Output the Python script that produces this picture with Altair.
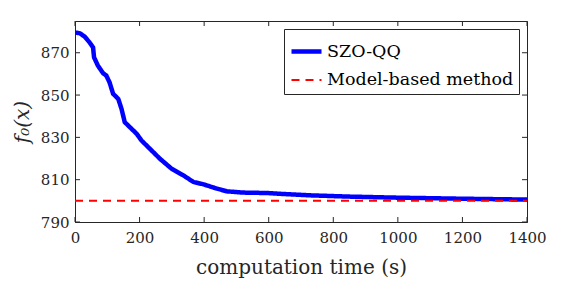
import altair as alt
import pandas as pd

# SZO-QQ trajectory (computation time in s, objective value)
t_szo = [0, 15, 30, 45, 56, 59, 71, 87, 97, 107, 118, 134, 144, 154, 170, 191,
         206, 232, 263, 299, 336, 367, 398, 439, 470, 521, 594, 650, 728, 850,
         1000, 1200, 1400]
f_szo = [879.6, 879.2, 877.6, 874.9, 872.5, 867.8, 863.9, 860.3, 859.2, 856.0,
         850.6, 848.2, 843.5, 837.2, 834.8, 831.7, 828.5, 824.6, 819.9, 815.2,
         812.0, 808.9, 807.8, 805.8, 804.5, 803.9, 803.7, 803.2, 802.6, 802.0,
         801.5, 801.0, 800.6]

# Model-based method (constant)
t_model = [0, 1400]
f_model = [800, 800]

series_names = ["SZO-QQ", "Model-based method"]
x_ticks = [0, 200, 400, 600, 800, 1000, 1200, 1400]
y_ticks = [790, 810, 830, 850, 870]

W, H = 452, 201
FONT = "DejaVu Serif"
INK = "#262626"

df = pd.concat([
    pd.DataFrame({"t": t_szo, "f": f_szo, "series": series_names[0]}),
    pd.DataFrame({"t": t_model, "f": f_model, "series": series_names[1]}),
])

legend = alt.Legend(
    title=None, orient="top-right", offset=8,
    symbolType="stroke", symbolSize=900,
    labelFont=FONT, labelFontSize=17.5, labelColor="black", labelLimit=400,
    labelOffset=3, rowPadding=3, padding=5,
    strokeColor=INK, fillColor="white", cornerRadius=0,
)

xscale = alt.Scale(domain=[0, 1400], nice=False, zero=False)
yscale = alt.Scale(domain=[790, 885], nice=False, zero=False)

lines = alt.Chart(df).mark_line(clip=True).encode(
    x=alt.X("t:Q", scale=xscale,
            axis=alt.Axis(values=x_ticks, format="d", title="computation time (s)",
                          labelPadding=8, titlePadding=12, ticks=False,
                          labelFlush=False, grid=False)),
    y=alt.Y("f:Q", scale=yscale,
            axis=alt.Axis(values=y_ticks, format="d", title="f₀(x)",
                          titleFontStyle="italic", labelFlush=False,
                          labelPadding=6, titlePadding=8, ticks=False,
                          grid=False)),
    color=alt.Color("series:N", scale=alt.Scale(domain=series_names,
                                                range=["#0000ff", "#ff0000"]),
                    legend=legend),
    strokeDash=alt.StrokeDash("series:N", scale=alt.Scale(domain=series_names,
                                                          range=[[1, 0], [8, 6]]),
                              legend=legend),
    strokeWidth=alt.StrokeWidth("series:N",
                                scale=alt.Scale(domain=series_names, range=[4.5, 2]),
                                legend=legend),
)

xt = pd.DataFrame({"t": x_ticks})
yt = pd.DataFrame({"f": y_ticks})

tick_style = dict(color=INK, strokeWidth=1)
xb = alt.Chart(xt).mark_rule(**tick_style).encode(
    x="t:Q", y=alt.value(H), y2=alt.value(H - 5))
xtop = alt.Chart(xt).mark_rule(**tick_style).encode(
    x="t:Q", y=alt.value(0), y2=alt.value(5))
yl = alt.Chart(yt).mark_rule(**tick_style).encode(
    y="f:Q", x=alt.value(0), x2=alt.value(5))
yr = alt.Chart(yt).mark_rule(**tick_style).encode(
    y="f:Q", x=alt.value(W), x2=alt.value(W - 5))

chart = alt.layer(lines, xb, xtop, yl, yr).properties(
    width=W, height=H,
    autosize=alt.AutoSizeParams(type="none"),
    padding={"left": 67, "top": 13, "right": 30, "bottom": 58},
    background="white",
).configure_view(
    stroke=INK, strokeWidth=1
).configure_axis(
    domainColor=INK, domainWidth=1,
    labelFont=FONT, labelFontSize=15, labelColor=INK,
    titleFont=FONT, titleFontSize=20, titleColor=INK, titleFontWeight="normal",
)

chart.save("out.html", embed_options={"renderer": "svg", "actions": False})
